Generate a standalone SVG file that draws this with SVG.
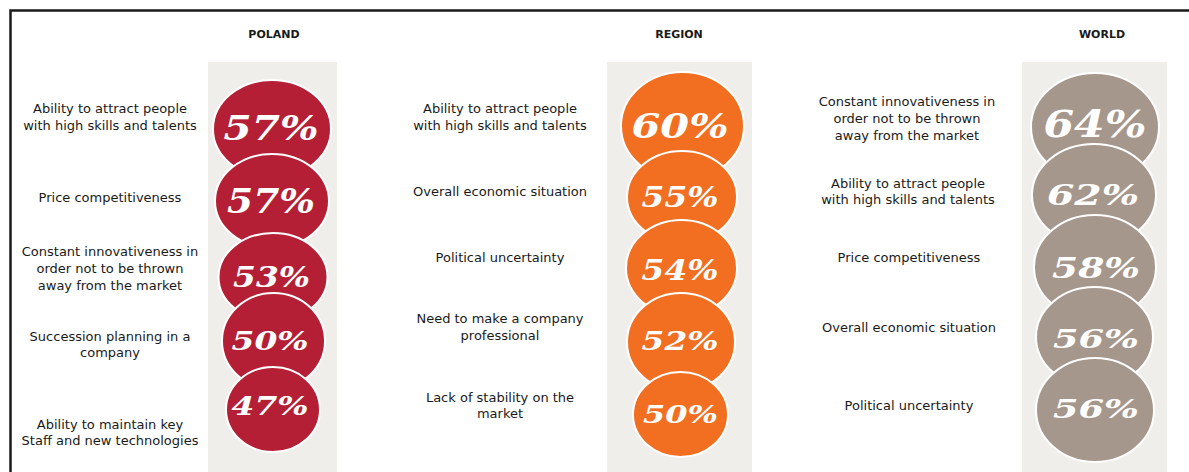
<svg xmlns="http://www.w3.org/2000/svg" width="1189" height="472" viewBox="0 0 1189 472">
<style>
.frame{fill:none;stroke:#1a1a1a;stroke-width:2.5}
.panel{fill:#efeeea}
.head{font-family:"DejaVu Sans",sans-serif;font-weight:bold;font-size:11px;fill:#1a1a1a;text-anchor:middle}
.lbl{font-family:"DejaVu Sans",sans-serif;font-size:13px;fill:#1a1a1a;text-anchor:middle}
.pct{font-family:"DejaVu Serif",serif;font-weight:bold;font-style:italic;fill:#ffffff;text-anchor:middle}
.pl{fill:#b41f35;stroke:#ffffff;stroke-width:2}
.rg{fill:#f26f21;stroke:#ffffff;stroke-width:2}
.wd{fill:#a6978d;stroke:#ffffff;stroke-width:2}
</style>
<rect width="1189" height="472" fill="#ffffff"/>
<path class="frame" d="M10.5,472 V10.5 H1189"/>
<g id="connectors"/>

<g id="col-poland">
<text class="head" x="274" y="38">POLAND</text>
<rect class="panel" x="208" y="62" width="129" height="410"/>
</g>
<g id="col-region">
<text class="head" x="679" y="38">REGION</text>
<rect class="panel" x="607" y="62" width="145" height="410"/>
</g>
<g id="col-world">
<text class="head" x="1102" y="38">WORLD</text>
<rect class="panel" x="1022" y="62" width="145" height="410"/>
</g>

<g id="pl1">
<text class="lbl" x="110" y="113">Ability to attract people</text>
<text class="lbl" x="110" y="130">with high skills and talents</text>
<ellipse class="pl" cx="272" cy="129" rx="59" ry="49"/>
<text class="pct" x="271" y="140" font-size="34" textLength="95" lengthAdjust="spacingAndGlyphs">57%</text>
</g>
<g id="pl2">
<text class="lbl" x="110" y="202">Price competitiveness</text>
<ellipse class="pl" cx="272" cy="201" rx="57" ry="47"/>
<text class="pct" x="271" y="213" font-size="34" textLength="88" lengthAdjust="spacingAndGlyphs">57%</text>
</g>
<g id="pl3">
<text class="lbl" x="110" y="256">Constant innovativeness in</text>
<text class="lbl" x="110" y="273">order not to be thrown</text>
<text class="lbl" x="110" y="290">away from the market</text>
<ellipse class="pl" cx="273" cy="277" rx="54.5" ry="44"/>
<text class="pct" x="271.5" y="287" font-size="28" textLength="77" lengthAdjust="spacingAndGlyphs">53%</text>
</g>
<g id="pl4">
<text class="lbl" x="110" y="341">Succession planning in a</text>
<text class="lbl" x="110" y="357">company</text>
<ellipse class="pl" cx="273.5" cy="341" rx="51.5" ry="48"/>
<text class="pct" x="270" y="350" font-size="26" textLength="77" lengthAdjust="spacingAndGlyphs">50%</text>
</g>
<g id="pl5">
<text class="lbl" x="110" y="429">Ability to maintain key</text>
<text class="lbl" x="110" y="445">Staff and new technologies</text>
<ellipse class="pl" cx="273" cy="409.5" rx="47" ry="42.5"/>
<text class="pct" x="270" y="415" font-size="26" textLength="77" lengthAdjust="spacingAndGlyphs">47%</text>
</g>

<g id="rg1">
<text class="lbl" x="500" y="113">Ability to attract people</text>
<text class="lbl" x="500" y="130">with high skills and talents</text>
<ellipse class="rg" cx="682.5" cy="126" rx="61.5" ry="54"/>
<text class="pct" x="680" y="138" font-size="34" textLength="97" lengthAdjust="spacingAndGlyphs">60%</text>
</g>
<g id="rg2">
<text class="lbl" x="500" y="196">Overall economic situation</text>
<ellipse class="rg" cx="682" cy="197" rx="55" ry="46"/>
<text class="pct" x="680" y="207" font-size="28" textLength="77" lengthAdjust="spacingAndGlyphs">55%</text>
</g>
<g id="rg3">
<text class="lbl" x="500" y="262">Political uncertainty</text>
<ellipse class="rg" cx="681.5" cy="268" rx="55.5" ry="48"/>
<text class="pct" x="680" y="280" font-size="28" textLength="77" lengthAdjust="spacingAndGlyphs">54%</text>
</g>
<g id="rg4">
<text class="lbl" x="500" y="323">Need to make a company</text>
<text class="lbl" x="500" y="340">professional</text>
<ellipse class="rg" cx="681" cy="342" rx="54" ry="49"/>
<text class="pct" x="680" y="350" font-size="26" textLength="77" lengthAdjust="spacingAndGlyphs">52%</text>
</g>
<g id="rg5">
<text class="lbl" x="500" y="402">Lack of stability on the</text>
<text class="lbl" x="500" y="418">market</text>
<ellipse class="rg" cx="680.5" cy="414.5" rx="47.5" ry="42.5"/>
<text class="pct" x="680.5" y="423" font-size="24" textLength="75" lengthAdjust="spacingAndGlyphs">50%</text>
</g>

<g id="wd1">
<text class="lbl" x="907" y="106">Constant innovativeness in</text>
<text class="lbl" x="907" y="123">order not to be thrown</text>
<text class="lbl" x="907" y="140">away from the market</text>
<ellipse class="wd" cx="1095" cy="127" rx="64" ry="54"/>
<text class="pct" x="1095" y="137" font-size="38" textLength="103" lengthAdjust="spacingAndGlyphs">64%</text>
</g>
<g id="wd2">
<text class="lbl" x="908" y="188">Ability to attract people</text>
<text class="lbl" x="908" y="204">with high skills and talents</text>
<ellipse class="wd" cx="1094" cy="195" rx="62" ry="51"/>
<text class="pct" x="1093" y="205" font-size="28" textLength="92" lengthAdjust="spacingAndGlyphs">62%</text>
</g>
<g id="wd3">
<text class="lbl" x="909" y="262">Price competitiveness</text>
<ellipse class="wd" cx="1095" cy="267" rx="61" ry="52"/>
<text class="pct" x="1096" y="278" font-size="28" textLength="88" lengthAdjust="spacingAndGlyphs">58%</text>
</g>
<g id="wd4">
<text class="lbl" x="909" y="332">Overall economic situation</text>
<ellipse class="wd" cx="1094.5" cy="337" rx="58.5" ry="50"/>
<text class="pct" x="1096" y="348" font-size="26" textLength="86" lengthAdjust="spacingAndGlyphs">56%</text>
</g>
<g id="wd5">
<text class="lbl" x="909" y="410">Political uncertainty</text>
<ellipse class="wd" cx="1095" cy="410" rx="59" ry="52"/>
<text class="pct" x="1096" y="418" font-size="26" textLength="86" lengthAdjust="spacingAndGlyphs">56%</text>
</g>
</svg>
